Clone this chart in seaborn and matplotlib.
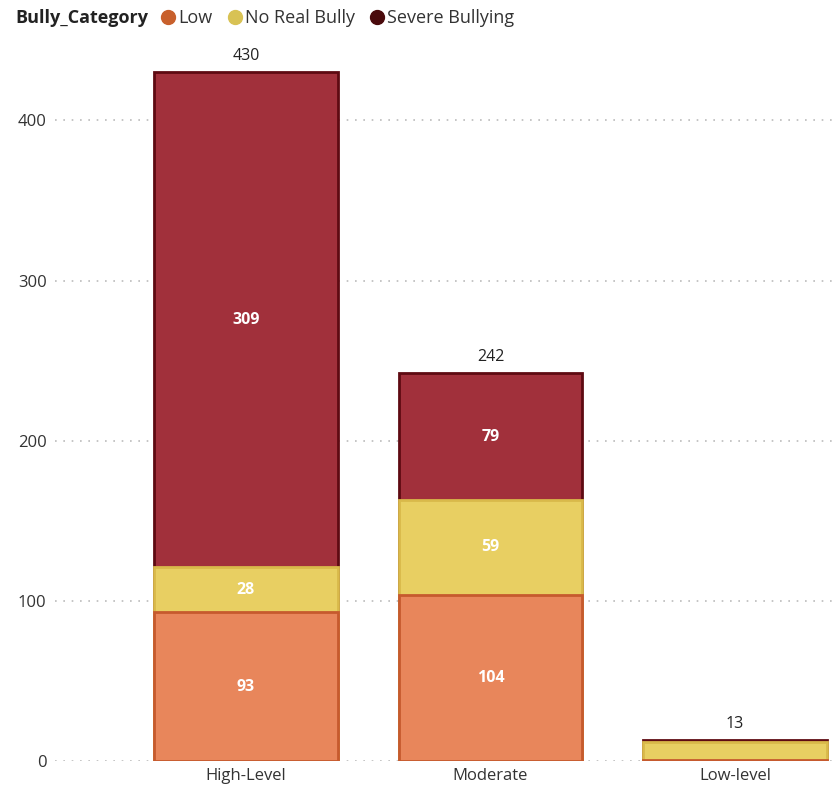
import pandas as pd
import seaborn as sns
import matplotlib.pyplot as plt
from matplotlib.lines import Line2D

levels = ['High-Level', 'Moderate', 'Low-level']
low = [93, 104, 1]
no_real = [28, 59, 11]
severe = [309, 79, 1]
totals = [430, 242, 13]

df = pd.DataFrame({'level': levels, 'Low': low, 'No Real Bully': no_real,
                   'Severe Bullying': severe})
df['s1'] = df['Low']
df['s2'] = df['Low'] + df['No Real Bully']
df['s3'] = df['s2'] + df['Severe Bullying']

sns.set_style('white')
plt.rcParams['font.family'] = ['Open Sans', 'DejaVu Sans']

fig = plt.figure(figsize=(8.33, 7.92), dpi=100)
ax = fig.add_axes([0.066, 0.039, 0.934, 0.904])

fills = {'s3': '#A1303B', 's2': '#E8CF62', 's1': '#E8865B'}
edges = {'s3': '#5E0A12', 's2': '#D9B94A', 's1': '#C65A2E'}
for col in ['s3', 's2', 's1']:
    sns.barplot(data=df, x='level', y=col, color=fills[col], saturation=1,
                width=0.75, edgecolor=edges[col], linewidth=2, ax=ax, zorder=3)

# segment labels
for i in range(len(levels)):
    segs = [(0, low[i]), (low[i], no_real[i]), (low[i] + no_real[i], severe[i])]
    for base, v in segs:
        if v >= 20:
            ax.text(i, base + v / 2, str(v), ha='center', va='center',
                    color='white', fontsize=11.5, fontweight='bold', zorder=5)
    ax.text(i, totals[i] + 5, str(totals[i]), ha='center', va='bottom',
            color='#222222', fontsize=11.5, zorder=5)

ax.set_xlim(-0.78, 2.4)
ax.set_ylim(0, 447)
ax.set_yticks([0, 100, 200, 300, 400])
ax.yaxis.grid(True, linestyle=(0, (1, 4)), color='#BBBBBB', linewidth=1.2, zorder=0)
ax.set_axisbelow(True)
sns.despine(ax=ax, left=True, bottom=True)
ax.set_xlabel('')
ax.set_ylabel('')
ax.tick_params(axis='both', length=0, labelsize=12, labelcolor='#333333', pad=5)
ax.tick_params(axis='y', pad=6)

fig.text(0.018, 0.977, 'Bully_Category', fontsize=13, fontweight='bold',
         color='#222222', va='center')
handles = [Line2D([], [], marker='o', linestyle='', markersize=10, color=c)
           for c in ['#C8602C', '#D8C254', '#4A0A0C']]
fig.legend(handles, ['Low', 'No Real Bully', 'Severe Bullying'], ncol=3,
           loc='center left', bbox_to_anchor=(0.192, 0.977), frameon=False,
           handletextpad=0.1, columnspacing=0.8, fontsize=13,
           borderaxespad=0, borderpad=0, handlelength=0.9,
           labelcolor='#333333')

fig.savefig('out.png', dpi=100)
